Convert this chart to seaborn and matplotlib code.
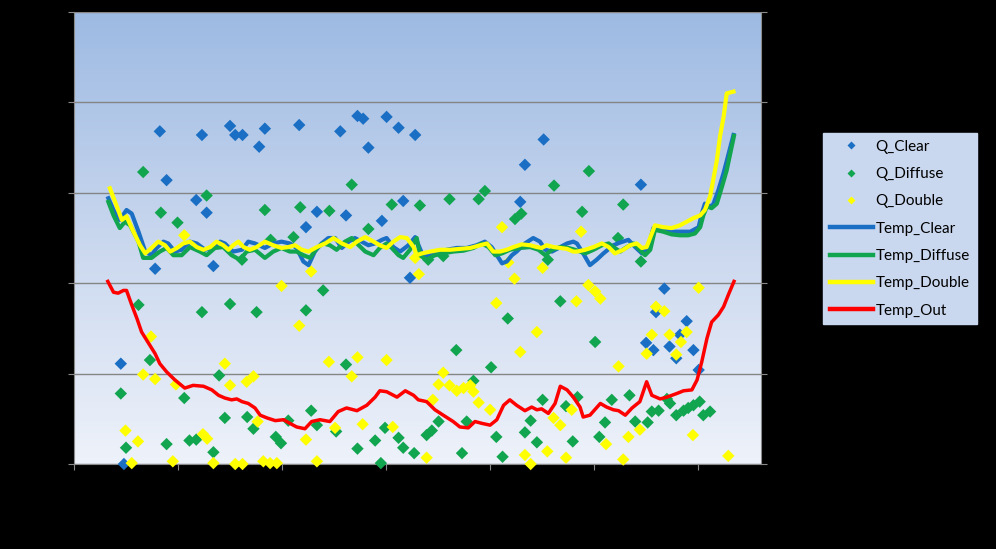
import numpy as np
import pandas as pd
import matplotlib
matplotlib.use("Agg")
import matplotlib.pyplot as plt
import seaborn as sns
from matplotlib.colors import LinearSegmentedColormap
from matplotlib.lines import Line2D

# ---- values (x: sample index, y: value) ----
q_clear_x = [9.0, 9.6, 15.6, 16.5, 17.8, 23.5, 24.6, 25.5, 26.8, 30.0, 31.0, 32.4, 35.6, 36.7,
             43.3, 44.6, 46.7, 51.2, 52.3, 54.5, 55.6, 56.6, 59.2, 60.1, 62.4, 63.3, 64.6, 65.6,
             85.8, 86.7, 90.3, 109.0, 110.0, 111.4, 111.9, 113.5, 114.5, 115.8, 116.5, 117.8,
             119.1, 120.1]
q_clear_y = [11.1, 0.0, 21.6, 36.8, 31.4, 29.2, 36.4, 27.8, 21.9, 37.4, 36.4, 36.4, 35.1, 37.1,
             37.5, 26.2, 27.9, 36.8, 27.5, 38.5, 38.2, 35.0, 26.9, 38.4, 37.2, 29.1, 20.6, 36.4,
             29.0, 33.1, 35.9, 30.9, 13.4, 12.6, 16.8, 19.4, 13.0, 11.7, 14.3, 15.8,
             12.6, 10.4]

q_diffuse_x = [9.0, 10.0, 12.4, 13.3, 14.6, 16.7, 17.8, 19.9, 21.2, 22.2, 23.5, 24.6, 25.5, 26.8,
               27.9, 29.0, 30.0, 32.3, 33.3, 34.5, 35.1, 36.7, 37.8, 38.8, 39.8, 41.2, 42.2, 43.5,
               44.6, 45.6, 46.7, 47.9, 49.1, 50.4, 52.3, 53.4, 54.5, 56.6, 57.9, 59.0, 59.8, 61.1,
               62.4, 63.3, 65.4, 66.5, 67.8, 68.1, 68.8, 70.1, 71.0, 72.2, 73.5, 74.6, 75.5, 76.8,
               77.8, 79.0, 80.2, 81.2, 82.4, 83.4, 84.8, 86.0, 86.7, 87.8, 89.0, 90.1, 91.1, 92.3,
               93.5, 94.6, 95.9, 96.8, 97.7, 99.0, 100.2, 101.0, 102.1, 103.4, 104.6, 105.6, 106.8,
               107.9, 109.0, 110.3, 111.1, 112.4, 114.0, 114.6, 115.8, 117.2, 118.1, 119.1, 120.3,
               121.0, 122.3]
q_diffuse_y = [7.8, 1.8, 17.6, 32.3, 11.5, 27.8, 2.2, 26.7, 7.3, 2.6, 2.7, 16.8, 29.7, 1.3,
               9.8, 5.1, 17.7, 22.6, 5.2, 3.9, 16.8, 28.1, 24.8, 3.0, 2.3, 4.8, 25.1, 28.4,
               17.0, 5.9, 4.3, 19.2, 28.0, 3.6, 11.0, 30.9, 1.7, 26.0, 2.6, 0.1, 4.0, 28.7,
               2.9, 1.8, 1.2, 28.6, 3.2, 22.6, 3.7, 4.7, 23.0, 29.3, 12.6, 1.2, 4.7, 9.2,
               29.3, 30.2, 10.7, 3.0, 0.8, 16.1, 27.1, 27.7, 3.5, 4.8, 2.4, 7.1, 22.6, 30.8,
               18.0, 6.4, 2.5, 7.4, 27.9, 32.4, 13.5, 3.0, 4.6, 7.1, 25.0, 28.7, 7.6,
               4.7, 22.4, 4.6, 5.8, 5.9, 7.2, 6.7, 5.4, 5.9, 6.2, 6.5, 6.9,
               5.4, 5.8]

q_double_x = [9.9, 11.1, 12.3, 13.3, 14.8, 15.6, 19.0, 19.6, 21.2, 24.8, 25.6, 26.8, 29.0, 30.0,
              31.0, 32.4, 33.2, 34.5, 35.3, 36.4, 37.7, 39.0, 39.9, 43.3, 44.6, 45.6, 46.7, 49.0,
              50.2, 53.4, 54.5, 55.5, 60.1, 61.3, 65.6, 66.3, 67.8, 69.0, 70.1, 71.0, 72.2, 73.6,
              74.9, 76.2, 76.8, 77.8, 80.0, 81.2, 82.3, 83.5, 84.7, 85.8, 86.7, 87.8, 89.0, 90.1,
              91.0, 92.2, 93.5, 94.6, 95.7, 96.6, 97.5, 98.9, 100.2, 101.2, 102.3, 104.7, 105.6,
              106.6, 108.8, 110.1, 111.1, 111.9, 113.5, 114.5, 115.8, 116.7, 117.8, 119.0, 120.1,
              125.8]
q_double_y = [3.7, 0.1, 2.5, 9.9, 14.1, 9.4, 0.3, 8.8, 25.3, 3.3, 2.8, 0.1, 11.1, 8.7,
              0.0, 0.0, 9.1, 9.7, 4.7, 0.3, 0.1, 0.1, 19.7, 15.3, 2.7, 21.3, 0.3, 11.3,
              4.0, 9.7, 11.8, 4.4, 11.5, 4.1, 22.8, 21.0, 0.7, 7.1, 8.8, 10.1, 8.7, 8.1,
              8.4, 8.7, 8.0, 6.8, 6.0, 17.8, 26.2, 22.3, 20.5, 12.4, 1.0, 0.0, 14.6, 21.7,
              1.4, 5.1, 4.3, 0.7, 6.0, 18.0, 25.7, 19.8, 19.1, 18.3, 2.2, 10.8, 0.5,
              3.0, 3.8, 12.2, 14.3, 17.4, 16.9, 14.3, 12.1, 13.5, 14.6, 3.2, 19.5,
              0.9]

temp_clear_x = [6.6, 7.6, 8.8, 10.1, 11.1, 12.4, 13.7, 14.9, 15.9, 17.2, 18.1, 19.4, 20.7, 22.3,
                23.6, 25.2, 26.5, 28.1, 29.0, 30.6, 32.3, 33.5, 34.8, 36.7, 38.3, 39.9, 41.5, 42.8,
                44.1, 45.1, 46.3, 47.6, 48.9, 50.2, 51.5, 52.8, 54.0, 55.3, 56.6, 57.9, 59.2, 60.1,
                61.4, 62.7, 64.3, 65.6, 66.9, 67.8, 69.8, 71.7, 73.6, 75.5, 77.4, 79.0, 80.3, 81.3,
                82.3, 83.2, 84.2, 85.1, 86.7, 88.3, 89.6, 90.6, 91.9, 93.5, 94.8, 96.0, 96.7, 97.9,
                99.2, 100.5, 101.8, 103.7, 105.0, 106.6, 107.9, 109.2, 110.4, 111.4, 113.0, 114.6,
                116.5, 118.5, 120.1, 120.7, 121.3, 122.3, 122.9, 123.9, 124.9, 125.9, 126.8]
temp_clear_y = [29.4, 28.1, 27.0, 28.1, 27.7, 25.7, 23.5, 23.1, 23.9, 24.6, 24.4, 23.5, 23.7, 24.6,
                24.4, 23.7, 23.9, 24.6, 24.4, 23.5, 23.7, 24.6, 24.4, 23.9, 24.4, 24.6, 24.4, 23.9,
                22.4, 22.0, 23.5, 24.4, 25.0, 25.0, 23.9, 24.6, 25.0, 24.6, 24.2, 24.4, 24.8, 25.0,
                24.0, 23.5, 24.2, 25.1, 23.3, 23.1, 23.5, 23.7, 23.9, 23.9, 24.2, 24.6, 24.0, 23.1,
                22.2, 22.4, 23.1, 23.5, 24.4, 25.0, 24.6, 23.7, 23.5, 24.0, 24.4, 24.6, 24.4, 23.3,
                22.0, 22.6, 23.3, 24.2, 24.5, 24.8, 24.0, 23.3, 24.0, 26.1, 25.9, 25.7,
                25.7, 25.7, 26.2, 27.7, 28.8, 28.5, 28.7, 30.3, 32.2, 34.4, 36.4]

temp_diffuse_x = [6.6, 7.6, 8.8, 9.8, 10.8, 12.4, 13.3, 14.9, 16.5, 17.8, 19.1, 20.7, 22.3, 24.2,
                  25.5, 27.1, 28.7, 30.3, 31.9, 33.2, 34.8, 36.7, 38.3, 39.9, 41.5, 42.8, 44.1, 45.4,
                  46.7, 47.9, 49.2, 50.5, 52.1, 53.4, 54.4, 56.0, 57.6, 58.8, 60.1, 61.1, 62.4, 63.3,
                  64.6, 65.9, 66.5, 67.8, 69.4, 71.0, 72.9, 74.9, 76.8, 78.4, 79.7, 81.0, 82.3, 83.8,
                  85.8, 87.7, 89.3, 90.6, 91.9, 93.5, 95.1, 96.3, 98.3, 99.9, 101.5, 102.8, 103.7,
                  105.0, 106.3, 107.6, 108.8, 109.8, 110.8, 111.7, 113.3, 114.9, 116.5, 118.1, 119.4,
                  120.4, 121.0, 121.7, 122.6, 123.6, 124.6, 125.5, 126.2, 126.9]
temp_diffuse_y = [29.0, 27.5, 26.1, 26.8, 26.4, 24.6, 22.8, 22.8, 23.5, 23.9, 23.1, 23.1, 24.0, 23.5,
                  23.1, 23.9, 24.0, 23.1, 22.6, 23.5, 23.7, 22.8, 23.5, 23.9, 23.5, 23.5, 23.1, 22.8,
                  23.9, 24.4, 24.2, 23.7, 24.6, 25.0, 24.4, 23.5, 23.1, 23.9, 24.4, 23.9, 23.1, 22.8,
                  23.7, 25.0, 23.1, 22.6, 23.1, 23.3, 23.5, 23.6, 23.9, 24.4, 24.0, 23.1, 23.3, 23.7,
                  23.9, 24.0, 23.7, 23.1, 23.7, 24.0, 23.9, 23.7, 23.3, 23.7, 24.2, 24.4, 24.0,
                  23.5, 24.0, 24.4, 23.7, 23.1, 23.7, 25.9, 25.7, 25.4, 25.3, 25.3, 25.5,
                  26.2, 27.5, 28.5, 28.3, 28.8, 30.7, 32.5, 34.4, 36.3]

temp_double_x = [6.9, 7.9, 9.2, 10.1, 11.1, 12.7, 13.7, 14.9, 16.2, 17.5, 18.5, 19.8, 21.0, 22.3,
                 23.6, 24.9, 26.2, 27.4, 28.7, 29.7, 30.6, 31.6, 32.6, 33.8, 35.1, 36.7, 38.3, 39.9,
                 41.2, 42.5, 43.8, 45.1, 46.7, 48.3, 49.9, 51.5, 53.1, 54.4, 56.0, 57.6, 58.8, 60.1,
                 61.4, 62.7, 64.0, 65.3, 65.9, 66.9, 68.5, 70.4, 72.3, 74.2, 76.2, 78.1, 79.4, 80.6,
                 81.9, 83.2, 84.5, 86.1, 87.7, 89.0, 89.9, 90.9, 92.2, 93.5, 94.8, 96.0, 96.7, 98.3,
                 99.9, 101.5, 102.8, 104.0, 105.6, 106.9, 108.2, 109.2, 110.1, 111.7, 113.3, 114.9,
                 116.5, 117.8, 119.1, 120.4, 121.3, 122.3, 122.9, 123.6, 124.2, 124.9, 125.5, 126.8]
temp_double_y = [30.5, 29.0, 27.0, 27.4, 26.1, 24.2, 23.3, 23.9, 24.6, 24.2, 23.5, 23.9, 24.4, 24.6,
                 24.0, 23.7, 24.0, 24.6, 24.2, 23.7, 24.2, 24.6, 24.0, 23.7, 24.0, 24.6, 24.2, 23.9,
                 24.0, 24.2, 23.7, 23.5, 24.0, 24.4, 25.0, 24.4, 24.0, 24.6, 25.1, 24.6, 24.2, 23.9,
                 24.6, 25.1, 25.0, 24.0, 23.1, 23.3, 23.5, 23.7, 23.7, 23.8, 23.9, 24.2, 24.4, 23.5,
                 23.5, 23.7, 24.0, 24.3, 24.2, 24.0, 23.9, 24.2, 24.0, 23.9, 23.8, 23.5, 23.5, 23.7,
                 24.0, 24.4, 24.0, 23.3, 23.7, 24.2, 24.4, 23.9, 24.0, 26.4, 26.2, 26.1,
                 26.4, 26.8, 27.2, 27.5, 28.1, 29.6, 31.4, 33.6, 36.2, 38.4, 41.0, 41.2]

temp_out_x = [6.5, 7.6, 8.5, 9.5, 10.1, 11.1, 12.1, 13.0, 14.3, 15.6, 16.5, 17.8, 19.4, 21.3,
              22.9, 24.9, 26.5, 27.8, 29.0, 30.3, 31.3, 32.3, 33.5, 34.8, 35.8, 37.1, 38.7, 40.3,
              41.5, 42.8, 44.4, 45.7, 47.3, 49.2, 50.8, 52.4, 54.4, 56.3, 57.9, 58.8, 60.1, 62.1,
              63.7, 65.3, 66.2, 67.8, 69.4, 71.0, 72.9, 74.2, 75.8, 77.1, 78.4, 80.0, 81.3, 82.6,
              83.8, 85.1, 86.7, 88.0, 89.0, 89.9, 91.2, 92.5, 93.5, 94.8, 96.0, 97.3, 97.9, 99.2,
              101.2, 102.4, 103.7, 104.7, 106.0, 107.3, 108.8, 110.1, 111.1, 112.7, 114.0, 115.9,
              117.2, 118.8, 119.8, 120.7, 121.7, 122.6, 123.9, 124.9, 125.8, 126.9]
temp_out_y = [20.2, 19.0, 18.9, 19.2, 19.2, 17.6, 16.1, 14.6, 13.4, 12.2, 11.1, 10.2, 9.3, 8.4,
              8.7, 8.6, 8.2, 7.6, 7.3, 7.1, 7.2, 6.9, 6.7, 6.2, 5.4, 5.1, 4.8, 4.9,
              4.5, 4.1, 3.9, 4.7, 4.9, 4.7, 5.8, 6.2, 5.9, 6.5, 7.4, 8.1, 8.0, 7.4,
              8.1, 7.6, 7.1, 6.9, 6.0, 5.4, 4.7, 4.1, 4.0, 4.7, 4.5, 4.3, 4.9, 6.5,
              7.1, 6.5, 5.9, 6.3, 6.0, 6.1, 5.6, 6.7, 8.6, 8.2, 7.4, 6.3, 5.2, 5.4,
              6.7, 6.3, 6.0, 5.9, 5.4, 6.2, 6.9, 9.1, 7.6, 7.2, 7.4, 7.8,
              8.1, 8.2, 9.3, 11.3, 13.9, 15.7, 16.5, 17.4, 18.7, 20.2]

x_ticks = [0, 20, 40, 60, 80, 100, 120]
y_ticks = [0, 10, 20, 30, 40, 50]

blue = "#1A6FC4"
green = "#12A550"
yellow = "#FFFF00"
red = "#FF0000"

plt.rcParams["font.family"] = ["Lato", "DejaVu Sans"]

fig = plt.figure(figsize=(9.96, 5.49), dpi=100, facecolor="black")
ax = fig.add_axes([0.0743, 0.1548, 0.6898, 0.8233])

xmax = 132.1
# plot-area gradient fill
bg = LinearSegmentedColormap.from_list("bg", ["#EEF2FA", "#C9D7EE", "#9DBAE3"])
grad = np.linspace(0, 1, 256).reshape(-1, 1)
ax.imshow(grad, extent=[0, xmax, 0, 50], origin="lower", aspect="auto",
          cmap=bg, zorder=0, interpolation="bicubic")

scatter_sets = [("Q_Clear", q_clear_x, q_clear_y, blue),
                ("Q_Diffuse", q_diffuse_x, q_diffuse_y, green),
                ("Q_Double", q_double_x, q_double_y, yellow)]
for name, xs, ys, col in scatter_sets:
    df = pd.DataFrame({"x": xs, "y": ys})
    sns.scatterplot(data=df, x="x", y="y", ax=ax, marker="D", s=40, color=col,
                    edgecolor="none", linewidth=0, zorder=3, clip_on=False)

line_sets = [("Temp_Clear", temp_clear_x, temp_clear_y, blue, 3.0),
             ("Temp_Diffuse", temp_diffuse_x, temp_diffuse_y, green, 3.0),
             ("Temp_Double", temp_double_x, temp_double_y, yellow, 3.0),
             ("Temp_Out", temp_out_x, temp_out_y, red, 2.5)]
for name, xs, ys, col, lw in line_sets:
    df = pd.DataFrame({"x": xs, "y": ys})
    sns.lineplot(data=df, x="x", y="y", ax=ax, sort=False, estimator=None,
                 color=col, lw=lw, zorder=4, solid_joinstyle="round")

ax.set_xlim(0, xmax)
ax.set_ylim(0, 50)
ax.set_xticks(x_ticks)
ax.set_yticks(y_ticks)
ax.set_xlabel("")
ax.set_ylabel("")
ax.yaxis.grid(True, color="#858585", lw=1.0)
ax.xaxis.grid(False)
ax.set_axisbelow(True)
ax.set_facecolor("#C9D7EE")

for side in ["left", "bottom", "right"]:
    ax.spines[side].set_color("#8A8A8A")
    ax.spines[side].set_linewidth(0.8)
ax.spines["top"].set_visible(False)
ax.tick_params(axis="both", direction="out", length=4, width=0.8, color="#8A8A8A",
               labelcolor="black", labelsize=10)
ax.tick_params(axis="y", right=True)

# legend
handles = [Line2D([], [], ls="none", marker="D", ms=4.5, color=c, mec="none") for _, _, _, c in scatter_sets]
handles += [Line2D([], [], color=c, lw=3.2) for _, _, _, c, _ in line_sets]
labels = [s[0] for s in scatter_sets] + [s[0] for s in line_sets]
leg = fig.legend(handles, labels, loc="upper left", bbox_to_anchor=(0.8263, 0.7578),
                 frameon=True, fontsize=11, handlelength=2.8, handletextpad=0.2,
                 labelspacing=0.87, borderpad=0.45, borderaxespad=0, fancybox=False)
leg.get_frame().set_facecolor("#CAD8EF")
leg.get_frame().set_edgecolor("#CAD8EF")
leg.get_frame().set_alpha(1)

fig.savefig("out.png", dpi=100, facecolor="black")
